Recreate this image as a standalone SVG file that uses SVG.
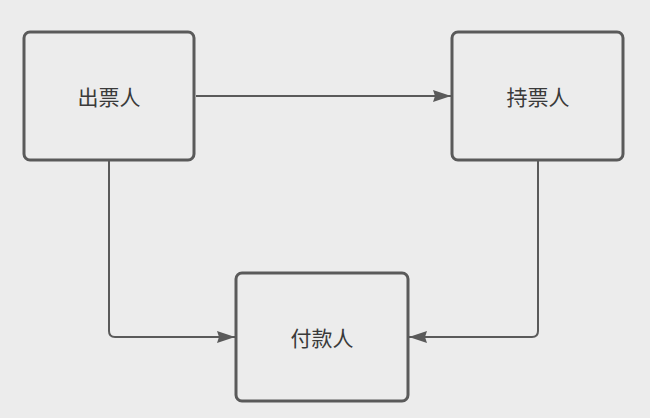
<svg xmlns="http://www.w3.org/2000/svg" width="650" height="418" viewBox="0 0 650 418">
<style>
.box{fill:#ececec;stroke:#5a5a5a;stroke-width:3}
.lbl{font-family:"Noto Sans CJK SC","Noto Sans",sans-serif;font-size:21px;font-weight:400;fill:#3a3a3a;text-anchor:middle;dominant-baseline:central}
.edge{fill:none;stroke:#5a5a5a;stroke-width:2}
</style>
<defs>
<marker id="ah" markerWidth="18" markerHeight="12" refX="18" refY="6" orient="auto" markerUnits="userSpaceOnUse" viewBox="0 0 18 12">
<path d="M0,0 L18,6 L0,12 L2,6 Z" fill="#5a5a5a"/>
</marker>
</defs>
<rect width="650" height="418" fill="#ececec"/>
<g id="connectors">
<path class="edge" d="M196,96 L451,96" marker-end="url(#ah)"/>
<path class="edge" d="M109,161 L109,331 Q109,337 115,337 L235,337" marker-end="url(#ah)"/>
<path class="edge" d="M538,161 L538,331 Q538,337 532,337 L409,337" marker-end="url(#ah)"/>
</g>
<g id="n1">
<rect class="box" x="24" y="32" width="170" height="128" rx="6"/>
<text class="lbl" x="109" y="96">出票人</text>
</g>
<g id="n2">
<rect class="box" x="452" y="32" width="171" height="128" rx="6"/>
<text class="lbl" x="538" y="96">持票人</text>
</g>
<g id="n3">
<rect class="box" x="236" y="273" width="172" height="128" rx="6"/>
<text class="lbl" x="322" y="337">付款人</text>
</g>
</svg>
